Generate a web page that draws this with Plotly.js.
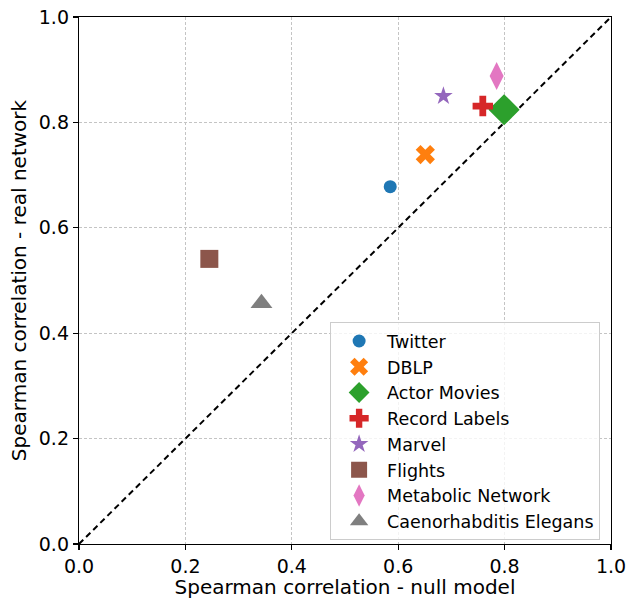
<!DOCTYPE html>
<html>
<head>
<meta charset="utf-8">
<script src="https://cdn.plot.ly/plotly-3.0.1.min.js"></script>
<style>html,body{margin:0;padding:0;background:#fff;}#chart{width:626px;height:599px;}</style>
</head>
<body>
<div id="chart"></div>
<script>
const names = ["Twitter", "DBLP", "Actor Movies", "Record Labels", "Marvel", "Flights", "Metabolic Network", "Caenorhabditis Elegans"];
const nullModel = [0.585, 0.651, 0.799, 0.759, 0.685, 0.245, 0.785, 0.343];
const realNetwork = [0.678, 0.739, 0.824, 0.831, 0.850, 0.541, 0.888, 0.457];
const colors = ["#1f77b4", "#ff7f0e", "#2ca02c", "#d62728", "#9467bd", "#8c564b", "#e377c2", "#7f7f7f"];
const symbols = ["circle", "x", "diamond", "cross", "star", "square", "diamond-tall", "triangle-up"];
const sizes = [13, 17, 24, 17, 14, 18, 20, 19];
const diagonal = [0, 1];

const traces = [{
  x: diagonal, y: diagonal, mode: "lines", showlegend: false,
  line: {color: "black", width: 2, dash: "6px,4px"}, hoverinfo: "skip"
}];
names.forEach((n, i) => {
  traces.push({
    x: [nullModel[i]], y: [realNetwork[i]], name: n, mode: "markers", type: "scatter",
    marker: {color: colors[i], symbol: symbols[i], size: sizes[i], line: {width: 0}}
  });
});

const axisCommon = {
  range: [0, 1], dtick: 0.2, tick0: 0, tickformat: ".1f",
  showgrid: true, gridcolor: "#c4c4c4", griddash: "3px,2px", gridwidth: 1,
  zeroline: false, showline: true, linecolor: "black", linewidth: 1.2, mirror: true,
  ticks: "outside", ticklen: 5, tickwidth: 1.2, tickcolor: "black",
  tickfont: {size: 19, color: "black"}, ticklabeloverflow: "allow"
};

const layout = {
  width: 626, height: 599,
  margin: {l: 79, r: 15, t: 17, b: 55},
  paper_bgcolor: "white", plot_bgcolor: "white",
  font: {family: "DejaVu Sans", color: "black"},
  xaxis: Object.assign({}, axisCommon, {title: {text: "Spearman correlation - null model", font: {size: 20}, standoff: 3}}),
  yaxis: Object.assign({}, axisCommon, {title: {text: "Spearman correlation - real network", font: {size: 20}, standoff: 6}}),
  legend: {
    x: 0.472, y: 0.421, xanchor: "left", yanchor: "top",
    bgcolor: "rgba(255,255,255,0.8)", bordercolor: "#cccccc", borderwidth: 1,
    font: {size: 17.5, color: "black"}, itemwidth: 46, tracegroupgap: 0
  },
  showlegend: true
};

Plotly.newPlot("chart", traces, layout, {displayModeBar: false, staticPlot: true});
</script>
</body>
</html>
